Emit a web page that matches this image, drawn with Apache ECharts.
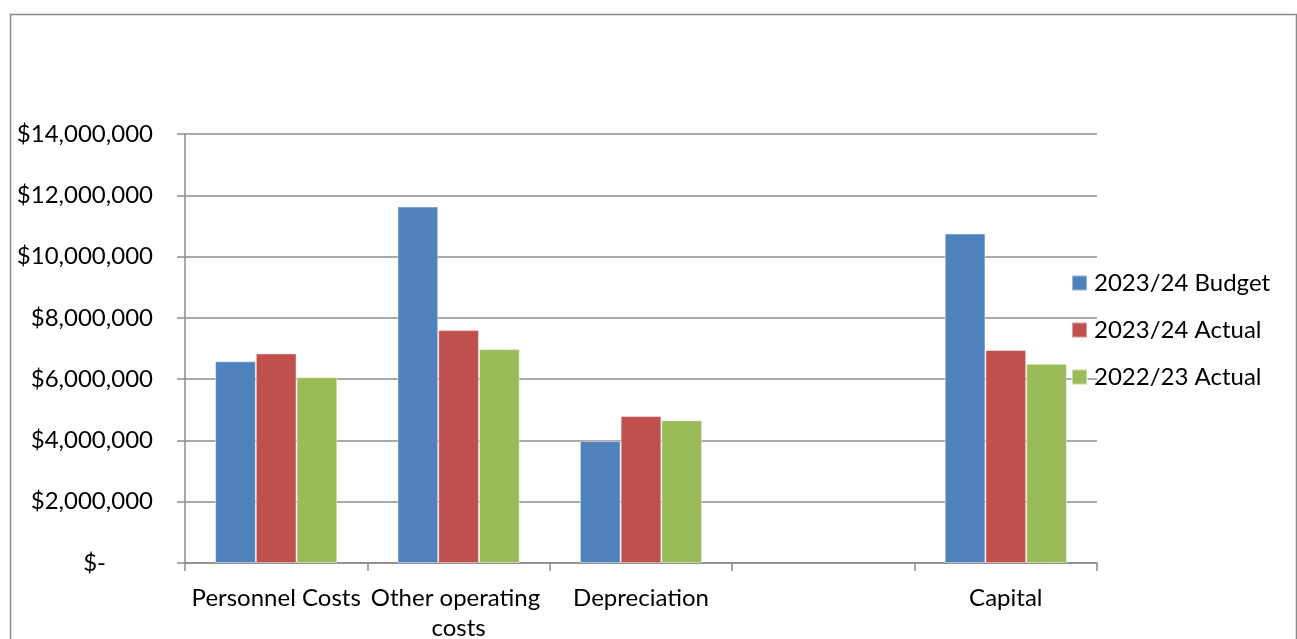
<!DOCTYPE html>
<html>
<head>
<meta charset="utf-8">
<title>Budget vs Actual</title>
<script src="https://cdn.jsdelivr.net/npm/echarts@6/dist/echarts.min.js"></script>
<style>
  html, body { margin: 0; padding: 0; background: #fff; }
  #chart { width: 1297px; height: 639px; }
</style>
</head>
<body>
<div id="chart"></div>
<script>
// Expense categories (the fourth slot is intentionally blank)
const categories = ['Personnel Costs', 'Other operating costs', 'Depreciation', '', 'Capital'];

// Series values in dollars
const budget2324 = [6580000, 11630000, 3980000, null, 10750000];
const actual2324 = [6840000, 7600000, 4800000, null, 6950000];
const actual2223 = [6060000, 6980000, 4660000, null, 6500000];

const seriesNames = ['2023/24 Budget', '2023/24 Actual', '2022/23 Actual'];

// Value axis range
const yMin = 0;
const yMax = 14000000;
const yStep = 2000000;

const FONT = 'Lato';
const FONT_SIZE = 24;
const GRID_GRAY = '#8c8c8c';

const chart = echarts.init(document.getElementById('chart'), null, { renderer: 'canvas' });

function dollars(v) {
  if (v === 0) return '{z|$-}';
  return '$' + v.toLocaleString('en-US');
}

const colors = ['#4F81BD', '#C0504D', '#9BBB59'];
const values = [budget2324, actual2324, actual2223];

chart.setOption({
  animation: false,
  backgroundColor: '#ffffff',
  textStyle: { fontFamily: FONT, color: '#000' },
  graphic: [{
    type: 'rect',
    left: 8, top: 12,
    shape: { width: 1286, height: 700 },
    style: { fill: 'none', stroke: '#8a8a8a', lineWidth: 1.5 },
    z: -1
  }],
  grid: { left: 185, right: 200, top: 134, bottom: 76, containLabel: false, outerBoundsMode: 'none' },
  legend: {
    orient: 'vertical',
    left: 1066,
    top: 266,
    padding: 5,
    itemWidth: 15,
    itemHeight: 15,
    itemGap: 23,
    icon: 'rect',
    textStyle: { fontFamily: FONT, fontSize: FONT_SIZE, color: '#000', lineHeight: 24, padding: [0, 0, 0, 2] },
    data: seriesNames
  },
  xAxis: {
    type: 'category',
    data: categories,
    axisLine: { lineStyle: { color: GRID_GRAY, width: 1.5 } },
    axisTick: { show: true, length: 8, alignWithLabel: false, lineStyle: { color: GRID_GRAY, width: 1.5 } },
    axisLabel: {
      interval: 0,
      margin: 20,
      fontFamily: FONT,
      fontSize: FONT_SIZE,
      color: '#000',
      lineHeight: 30,
      width: 182,
      overflow: 'break'
    }
  },
  yAxis: {
    type: 'value',
    min: yMin,
    max: yMax,
    interval: yStep,
    axisLine: { show: true, lineStyle: { color: GRID_GRAY, width: 1.5 } },
    axisTick: { show: true, length: 8, lineStyle: { color: GRID_GRAY, width: 1.5 } },
    splitLine: { show: true, lineStyle: { color: GRID_GRAY, width: 1.5 } },
    axisLabel: {
      margin: 32,
      fontFamily: FONT,
      fontSize: FONT_SIZE,
      color: '#000',
      formatter: dollars,
      rich: {
        z: { fontFamily: FONT, fontSize: FONT_SIZE, color: '#000', padding: [0, 47, 0, 0] }
      }
    }
  },
  series: seriesNames.map((name, i) => ({
    name: name,
    type: 'bar',
    data: values[i],
    barGap: '0%',
    barCategoryGap: '33%',
    itemStyle: { color: colors[i], borderColor: 'rgba(255,255,255,0.45)', borderWidth: 1 }
  }))
});
</script>
</body>
</html>
